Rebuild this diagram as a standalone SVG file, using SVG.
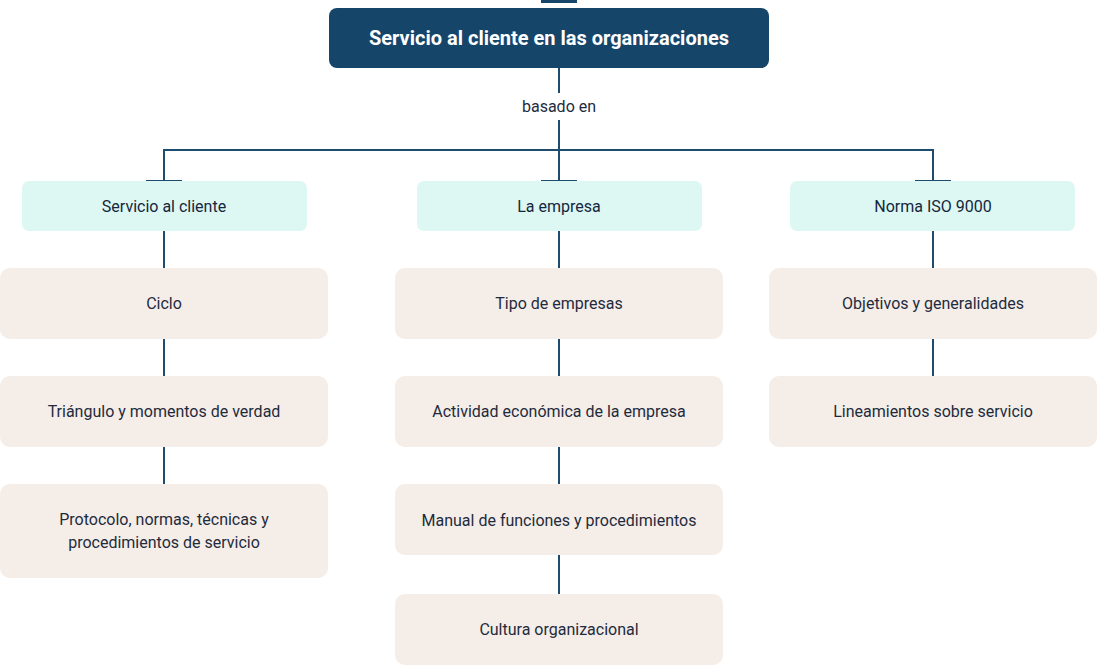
<svg xmlns="http://www.w3.org/2000/svg" width="1098" height="666" viewBox="0 0 1098 666">
<style>
.ln{stroke:#1D4C6E;stroke-width:2;fill:none}
.l1{fill:#DDF7F2}
.l2{fill:#F5EDE8}
.t{font-family:Roboto,"Liberation Sans",sans-serif;font-size:16px;fill:#1E2B3D;text-anchor:middle}
.t1{font-weight:400;fill:#14263F}
.title{font-family:Roboto,"Liberation Sans",sans-serif;font-size:20px;font-weight:700;fill:#FFFFFF;text-anchor:middle}
</style>
<rect width="1098" height="666" fill="#FFFFFF"/>
<rect x="541" y="0" width="36" height="3" fill="#16456A"/>
<g id="connectors">
<path class="ln" d="M559 68V93M559 120V181M164 181V150H933V181M146 181H182M541 181H577M915 181H951"/>
<path class="ln" d="M164 231V268M164 339V376M164 447V484"/>
<path class="ln" d="M559 231V268M559 339V376M559 447V484M559 555V594"/>
<path class="ln" d="M933 231V268M933 339V376"/>
<text class="t" x="559" y="112">basado en</text>
</g>
<g id="root">
<rect x="329" y="8" width="440" height="60" rx="8" fill="#16456A"/>
<text class="title" x="549" y="45">Servicio al cliente en las organizaciones</text>
</g>
<g id="servicio-al-cliente">
<rect class="l1" x="22" y="181" width="285" height="50" rx="7"/>
<text class="t t1" x="164" y="212">Servicio al cliente</text>
</g>
<g id="la-empresa">
<rect class="l1" x="417" y="181" width="285" height="50" rx="7"/>
<text class="t t1" x="559" y="212">La empresa</text>
</g>
<g id="norma-iso">
<rect class="l1" x="790" y="181" width="285" height="50" rx="7"/>
<text class="t t1" x="933" y="212">Norma ISO 9000</text>
</g>
<g id="ciclo">
<rect class="l2" x="0" y="268" width="328" height="71" rx="10"/>
<text class="t" x="164" y="309">Ciclo</text>
</g>
<g id="triangulo">
<rect class="l2" x="0" y="376" width="328" height="71" rx="10"/>
<text class="t" x="164" y="417">Triángulo y momentos de verdad</text>
</g>
<g id="protocolo">
<rect class="l2" x="0" y="484" width="328" height="94" rx="10"/>
<text class="t" x="164" y="525">Protocolo, normas, técnicas y</text>
<text class="t" x="164" y="548">procedimientos de servicio</text>
</g>
<g id="tipo-empresas">
<rect class="l2" x="395" y="268" width="328" height="71" rx="10"/>
<text class="t" x="559" y="309">Tipo de empresas</text>
</g>
<g id="actividad">
<rect class="l2" x="395" y="376" width="328" height="71" rx="10"/>
<text class="t" x="559" y="417">Actividad económica de la empresa</text>
</g>
<g id="manual">
<rect class="l2" x="395" y="484" width="328" height="71" rx="10"/>
<text class="t" x="559" y="526">Manual de funciones y procedimientos</text>
</g>
<g id="cultura">
<rect class="l2" x="395" y="594" width="328" height="71" rx="10"/>
<text class="t" x="559" y="635">Cultura organizacional</text>
</g>
<g id="objetivos">
<rect class="l2" x="769" y="268" width="328" height="71" rx="10"/>
<text class="t" x="933" y="309">Objetivos y generalidades</text>
</g>
<g id="lineamientos">
<rect class="l2" x="769" y="376" width="328" height="71" rx="10"/>
<text class="t" x="933" y="417">Lineamientos sobre servicio</text>
</g>
</svg>
